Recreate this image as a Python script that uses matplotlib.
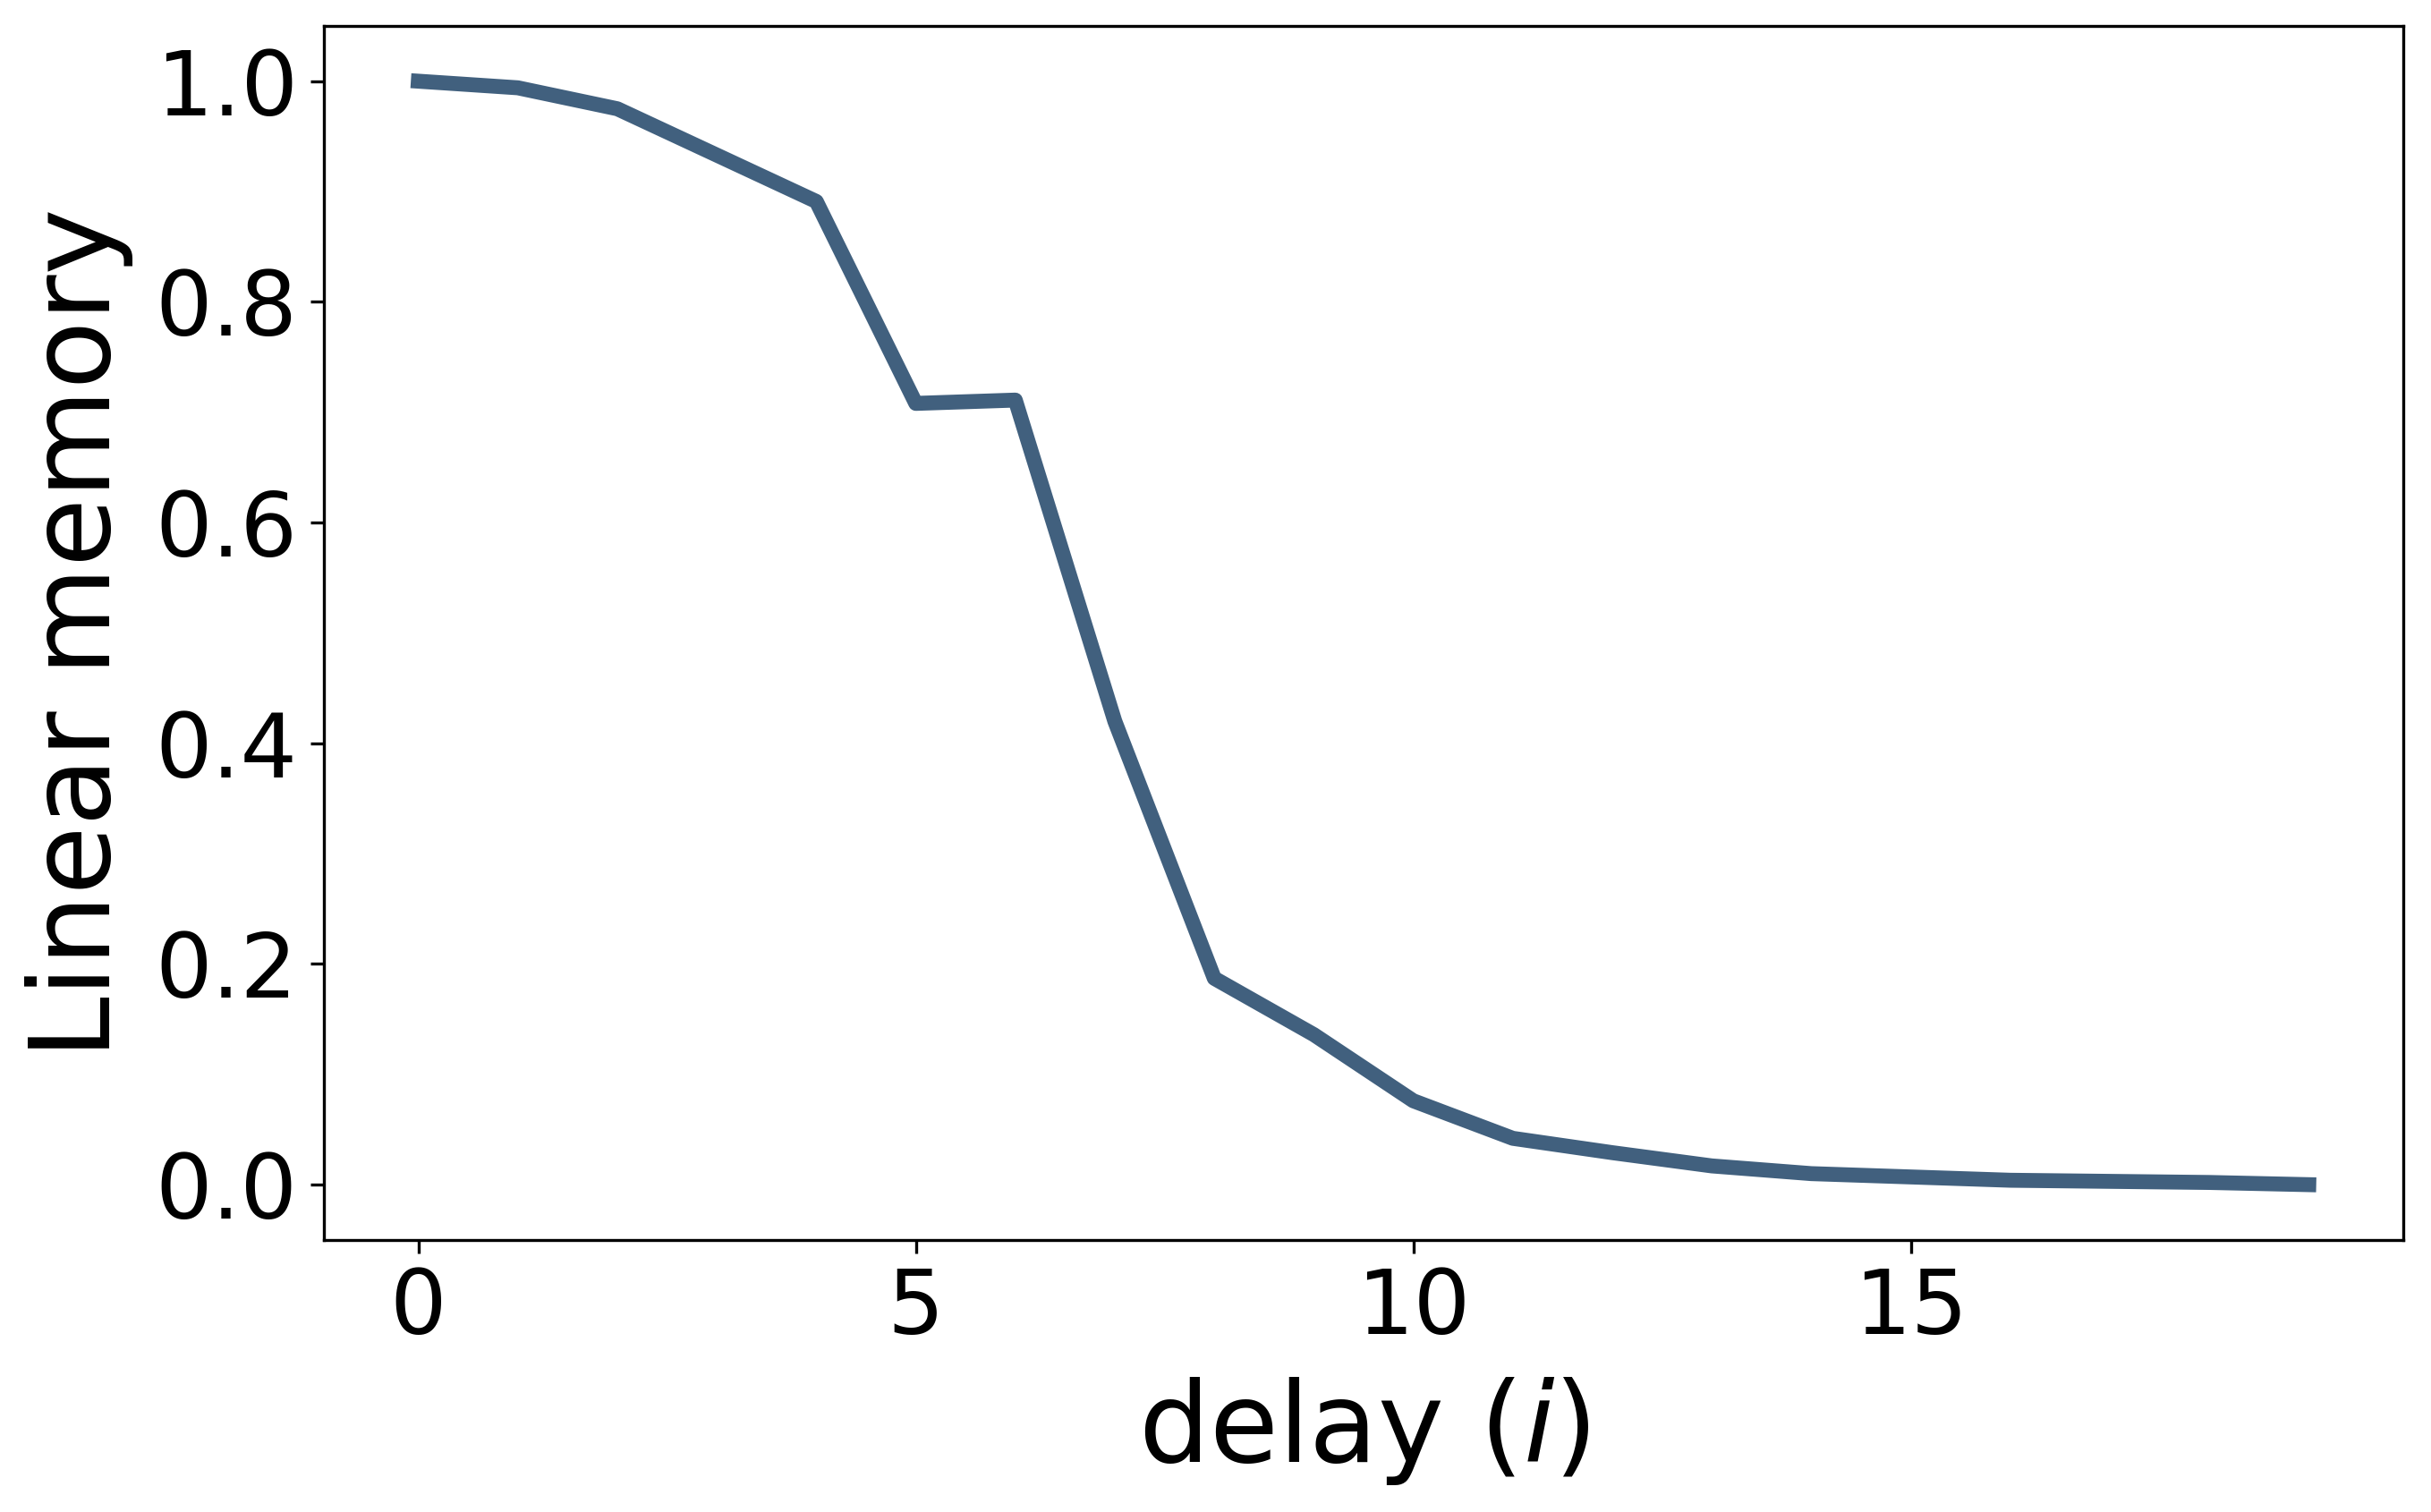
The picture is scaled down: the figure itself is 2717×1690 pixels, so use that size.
import numpy as np
import matplotlib
matplotlib.use("Agg")
import matplotlib.pyplot as plt

# linear memory capacity per delay
delays = np.arange(20)
memory = [1.000, 0.994, 0.975, 0.933, 0.891, 0.708, 0.711, 0.420, 0.187, 0.136,
          0.076, 0.042, 0.029, 0.017, 0.010, 0.007, 0.004, 0.003, 0.002, 0.000]

fig = plt.figure(figsize=(2717 / 300, 1690 / 300), dpi=300)
ax = fig.add_axes([0.1332, 0.180, 0.8554, 0.8028])
ax.plot(delays, memory, color='#41607e', linewidth=4)
ax.set_xticks([0, 5, 10, 15])
ax.set_yticks([0.0, 0.2, 0.4, 0.6, 0.8, 1.0])
ax.tick_params(labelsize=24)
ax.set_xlabel('delay ($i$)', fontsize=30, labelpad=6)
ax.set_ylabel('Linear memory', fontsize=30, labelpad=6)
fig.savefig('out.png', dpi=300)
